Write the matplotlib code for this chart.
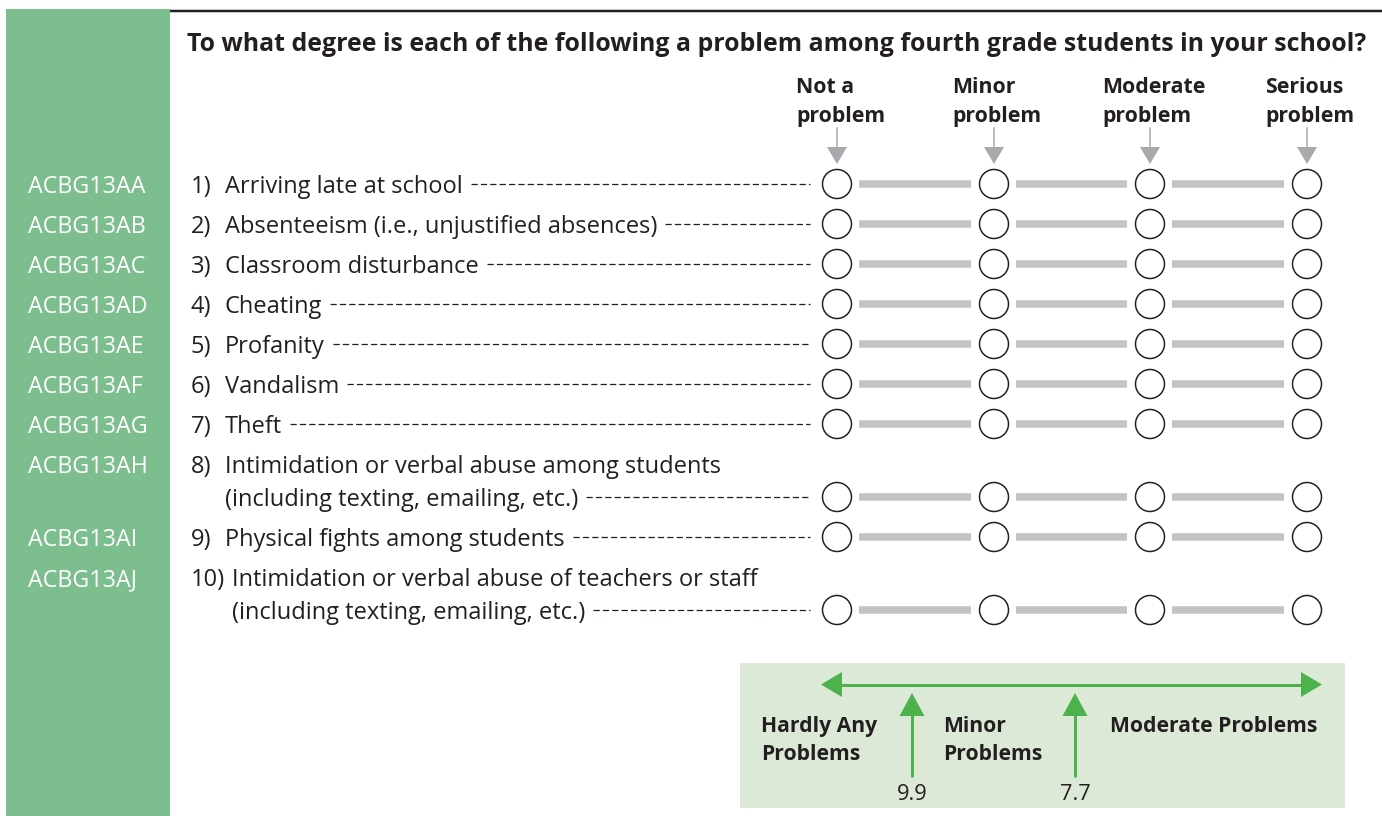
import matplotlib
matplotlib.use("Agg")
import matplotlib.pyplot as plt
from matplotlib.patches import Circle, Rectangle, Polygon

# questionnaire content
title = "To what degree is each of the following a problem among fourth grade students in your school?"
codes = ["ACBG13AA", "ACBG13AB", "ACBG13AC", "ACBG13AD", "ACBG13AE",
         "ACBG13AF", "ACBG13AG", "ACBG13AH", "ACBG13AI", "ACBG13AJ"]
items = ["Arriving late at school",
         "Absenteeism (i.e., unjustified absences)",
         "Classroom disturbance",
         "Cheating",
         "Profanity",
         "Vandalism",
         "Theft",
         "Intimidation or verbal abuse among students\n(including texting, emailing, etc.)",
         "Physical fights among students",
         "Intimidation or verbal abuse of teachers or staff\n(including texting, emailing, etc.)"]
responses = ["Not a\nproblem", "Minor\nproblem", "Moderate\nproblem", "Serious\nproblem"]
scale_labels = ["Hardly Any\nProblems", "Minor\nProblems", "Moderate Problems"]
cut_points = [9.9, 7.7]

DARK = "#231f20"
SIDEBAR = "#7dbe8e"
BAR_GREY = "#c3c3c3"
ARROW_GREY = "#a7a9ac"
BOX = "#dce9d6"
GREEN = "#4db24b"
PT = 72 / 100  # pixels -> points

plt.rcParams["font.family"] = ["Open Sans", "DejaVu Sans"]

W, H = 1382, 816
fig = plt.figure(figsize=(W / 100, H / 100), dpi=100)
ax = fig.add_axes([0, 0, 1, 1])
ax.set_xlim(0, W)
ax.set_ylim(H, 0)
ax.axis("off")
renderer = fig.canvas.get_renderer()


def fit(s, px, weight="normal"):
    # font size (pt) so that string s is about px pixels wide
    t = ax.text(0, 0, s, fontsize=10, fontweight=weight)
    w = t.get_window_extent(renderer).width
    t.remove()
    return 10 * px / w


body = fit("Arriving late at school", 238)
code_size = fit("ACBG13AA", 117)
title_size = fit(title, 1181, "bold")
head_size = fit("problem", 90, "bold")
box_size = fit("Moderate Problems", 208, "bold")

# sidebar and top rule
ax.add_patch(Rectangle((6, 9), 164, H - 9, color=SIDEBAR, lw=0))
ax.plot([170, W], [11, 11], color=DARK, lw=2.5 * PT, solid_capstyle="butt")
ax.text(187, 50.7, title, fontsize=title_size, fontweight="bold", color=DARK, va="baseline")

# response columns
col_x = [837, 994, 1150, 1307]
head_x = [796, 952, 1102, 1265]
for hx, cx, lab in zip(head_x, col_x, responses):
    for k, line in enumerate(lab.split("\n")):
        ax.text(hx, 93.3 + 28.4 * k, line, fontsize=head_size, fontweight="bold",
                color=DARK, va="baseline")
    ax.plot([cx, cx], [128, 148], color=ARROW_GREY, lw=1.5 * PT)
    ax.add_patch(Polygon([(cx - 10, 147), (cx + 10, 147), (cx, 164)], color=ARROW_GREY, lw=0))

# item rows
y = 184
for i, (code, item) in enumerate(zip(codes, items)):
    lines = item.split("\n")
    first = y
    yc = y + 33 * (len(lines) - 1)
    ax.text(28, first + 9, code, fontsize=code_size, color="white", va="baseline")
    ax.text(191, first + 9, f"{i + 1})", fontsize=body, color=DARK, va="baseline")
    tx = 225 if i < 9 else 232
    for k, line in enumerate(lines):
        t = ax.text(tx, first + 9 + 33 * k, line, fontsize=body, color=DARK, va="baseline")
    x_end = t.get_window_extent(renderer).x1
    ax.plot([x_end + 8, 810], [yc, yc], color=DARK, lw=0.9, dashes=(5, 2.5))
    for j in range(3):
        ax.plot([col_x[j] + 22, col_x[j + 1] - 23], [yc, yc], color=BAR_GREY,
                lw=7.5 * PT, solid_capstyle="butt")
    for cx in col_x:
        ax.add_patch(Circle((cx, yc), 14.5, facecolor="white", edgecolor=DARK, lw=1.5 * PT))
    y = yc + 40

# scale box
ax.add_patch(Rectangle((740, 663), 605, 145, color=BOX, lw=0))
ay = 684.5
ax.plot([840, 1303], [ay, ay], color=GREEN, lw=3 * PT, solid_capstyle="butt")
ax.add_patch(Polygon([(821, ay), (842, ay - 12.5), (842, ay + 12.5)], color=GREEN, lw=0))
ax.add_patch(Polygon([(1322, ay), (1301, ay - 12.5), (1301, ay + 12.5)], color=GREEN, lw=0))
for vx, val in zip([912, 1075], cut_points):
    ax.plot([vx, vx], [714, 777], color=GREEN, lw=3 * PT, solid_capstyle="butt")
    ax.add_patch(Polygon([(vx, 693), (vx - 12.5, 716), (vx + 12.5, 716)], color=GREEN, lw=0))
    ax.text(vx, 800, f"{val}", fontsize=body * 0.92, color=DARK, ha="center", va="baseline")
for lx, lab in zip([761, 943, 1110], scale_labels):
    for k, line in enumerate(lab.split("\n")):
        ax.text(lx, 731.7 + 28.5 * k, line, fontsize=box_size, fontweight="bold",
                color=DARK, va="baseline")

fig.savefig("out.png", dpi=100, facecolor="white")
